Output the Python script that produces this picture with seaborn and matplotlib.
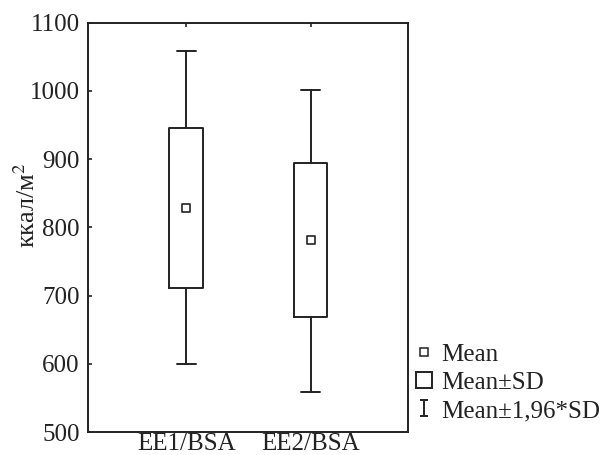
import matplotlib
matplotlib.use("Agg")
import matplotlib.pyplot as plt
from matplotlib.lines import Line2D
from matplotlib.path import Path
import seaborn as sns
import pandas as pd

categories = ["EE1/BSA", "EE2/BSA"]
means = [828, 781]
sd_low = [711, 668]
sd_high = [946, 895]
ci_low = [599, 559]
ci_high = [1058, 1002]
yticks = [500, 600, 700, 800, 900, 1000, 1100]

sns.set_theme(style="ticks")
plt.rcParams["font.family"] = ["Liberation Serif", "DejaVu Serif"]
plt.rcParams["mathtext.fontset"] = "stix"

fig = plt.figure(figsize=(6.03, 4.55), dpi=100)
ax = fig.add_axes([0.146, 0.0505, 0.531, 0.8995])

stats = []
for c, m, l, h, wl, wh in zip(categories, means, sd_low, sd_high, ci_low, ci_high):
    stats.append(dict(label=c, med=m, mean=m, q1=l, q3=h, whislo=wl, whishi=wh, fliers=[]))

lw = 1.4
ax.bxp(stats, positions=[0, 1], widths=0.27, showfliers=False, showmeans=False,
       boxprops=dict(color="#222222", linewidth=lw),
       whiskerprops=dict(color="#222222", linewidth=lw),
       capprops=dict(color="#222222", linewidth=lw),
       medianprops=dict(linewidth=0), capwidths=0.15)

df = pd.DataFrame({"cat": [0, 1], "mean": means})
sns.scatterplot(data=df, x="cat", y="mean", marker="s", s=40, facecolor="white",
                edgecolor="#222222", linewidth=1.2, ax=ax, zorder=5, legend=False)

ax.set_xlim(-0.79, 1.785)
ax.set_ylim(500, 1100)
ax.set_yticks(yticks)
ax.set_yticklabels([str(v) for v in yticks], fontsize=18)
ax.set_xticks([0, 1])
ax.set_xticklabels(categories, fontsize=18)
ax.tick_params(axis="both", direction="in", length=3, width=1.2, color="#222222",
               pad=4, labelcolor="#222222")
ax.tick_params(axis="x", top=True, bottom=False, pad=1)
ax.tick_params(axis="y", pad=6)
for s in ax.spines.values():
    s.set_visible(True)
    s.set_linewidth(1.4)
    s.set_color("#222222")
ax.set_xlabel("")
ax.set_ylabel("ккал/м$^2$", fontsize=19, color="#222222")
ax.yaxis.set_label_coords(-0.15, 0.555)

ibar = Path([(-0.45, 1), (0.45, 1), (0, 1), (0, -1), (-0.45, -1), (0.45, -1)],
            [Path.MOVETO, Path.LINETO, Path.MOVETO, Path.LINETO, Path.MOVETO, Path.LINETO])
handles = [
    Line2D([], [], linestyle="none", marker="s", markersize=6, markerfacecolor="white",
           markeredgecolor="#222222", markeredgewidth=1.1),
    Line2D([], [], linestyle="none", marker="s", markersize=11, markerfacecolor="white",
           markeredgecolor="#222222", markeredgewidth=1.4),
    Line2D([], [], linestyle="none", marker=ibar, markersize=12, markerfacecolor="none",
           markeredgecolor="#222222", markeredgewidth=1.4),
]
labels = ["Mean", "Mean±SD", "Mean±1,96*SD"]
fig.legend(handles, labels, loc="upper left", bbox_to_anchor=(0.69, 0.245),
           frameon=False, fontsize=18, handlelength=0.6, handletextpad=0.4,
           labelspacing=0.22, borderaxespad=0, borderpad=0, labelcolor="#222222")

fig.savefig("out.png", dpi=100)
